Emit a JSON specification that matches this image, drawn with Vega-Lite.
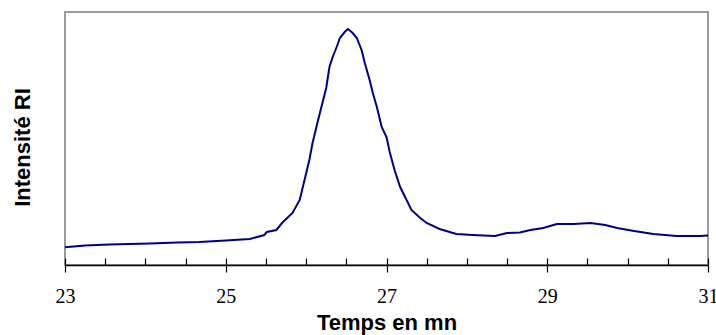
{
  "$schema": "https://vega.github.io/schema/vega-lite/v6.json",
  "width": 643,
  "height": 253,
  "autosize": "none",
  "padding": {"left": 65, "top": 12, "right": 8, "bottom": 70},
  "config": {
    "view": {"stroke": "#9a9a9a", "strokeWidth": 2},
    "axis": {"grid": false, "labelFont": "Liberation Serif", "labelFontSize": 20, "labelColor": "#000"}
  },
  "data": {
    "values": [
      {"t": 23.00, "i": 17.7},
      {"t": 23.25, "i": 19.5},
      {"t": 23.55, "i": 20.5},
      {"t": 23.80, "i": 21},
      {"t": 24.05, "i": 21.5},
      {"t": 24.40, "i": 22.5},
      {"t": 24.67, "i": 23},
      {"t": 25.00, "i": 24.5},
      {"t": 25.30, "i": 26},
      {"t": 25.48, "i": 30},
      {"t": 25.51, "i": 33},
      {"t": 25.63, "i": 35},
      {"t": 25.70, "i": 42},
      {"t": 25.83, "i": 52},
      {"t": 25.92, "i": 65},
      {"t": 25.98, "i": 85},
      {"t": 26.04, "i": 105},
      {"t": 26.08, "i": 122},
      {"t": 26.14, "i": 142},
      {"t": 26.19, "i": 158},
      {"t": 26.25, "i": 177},
      {"t": 26.29, "i": 198},
      {"t": 26.33, "i": 208},
      {"t": 26.38, "i": 218},
      {"t": 26.42, "i": 227},
      {"t": 26.48, "i": 233},
      {"t": 26.52, "i": 236},
      {"t": 26.58, "i": 232},
      {"t": 26.63, "i": 227},
      {"t": 26.69, "i": 215},
      {"t": 26.73, "i": 202},
      {"t": 26.79, "i": 185},
      {"t": 26.83, "i": 172},
      {"t": 26.88, "i": 158},
      {"t": 26.94, "i": 138},
      {"t": 27.00, "i": 128},
      {"t": 27.04, "i": 113},
      {"t": 27.10, "i": 95},
      {"t": 27.17, "i": 78},
      {"t": 27.25, "i": 65},
      {"t": 27.31, "i": 55},
      {"t": 27.42, "i": 47},
      {"t": 27.50, "i": 42},
      {"t": 27.66, "i": 36},
      {"t": 27.87, "i": 31},
      {"t": 28.07, "i": 30},
      {"t": 28.35, "i": 29},
      {"t": 28.50, "i": 32},
      {"t": 28.66, "i": 32.5},
      {"t": 28.79, "i": 35},
      {"t": 28.95, "i": 37},
      {"t": 29.12, "i": 41},
      {"t": 29.33, "i": 41},
      {"t": 29.54, "i": 42},
      {"t": 29.72, "i": 40},
      {"t": 29.87, "i": 37},
      {"t": 30.08, "i": 34},
      {"t": 30.32, "i": 31},
      {"t": 30.61, "i": 29},
      {"t": 30.90, "i": 29},
      {"t": 31.00, "i": 29.5}
    ]
  },
  "layer": [
    {
      "mark": {"type": "line", "color": "#000080", "strokeWidth": 2},
      "encoding": {
        "x": {
          "field": "t", "type": "quantitative",
          "scale": {"domain": [23, 31], "nice": false, "zero": false},
          "axis": {
            "orient": "bottom",
            "values": [23, 25, 27, 29, 31],
            "format": "d",
            "tickSize": 7, "tickColor": "#000", "tickWidth": 1.2,
            "domainColor": "#000", "domainWidth": 1.5,
            "labelFont": "Liberation Serif", "labelFontSize": 20, "labelColor": "#000",
            "labelPadding": 14, "labelFlush": false,
            "title": "Temps en mn",
            "titleFont": "Liberation Sans", "titleFontSize": 22, "titleFontWeight": "bold",
            "titleColor": "#000", "titlePadding": 6
          }
        },
        "y": {
          "field": "i", "type": "quantitative",
          "scale": {"domain": [0, 253], "nice": false},
          "axis": {
            "labels": false, "ticks": false, "domain": false,
            "title": "Intensité RI",
            "titleFont": "Liberation Sans", "titleFontSize": 22, "titleFontWeight": "bold",
            "titleColor": "#000", "titlePadding": 31, "titleY": 135
          }
        }
      }
    },
    {
      "mark": {"type": "line", "opacity": 0},
      "encoding": {
        "x": {
          "field": "t", "type": "quantitative",
          "scale": {"domain": [23, 31], "nice": false, "zero": false},
          "axis": {
            "orient": "bottom",
            "values": [23, 23.5, 24, 24.5, 25, 25.5, 26, 26.5, 27, 27.5, 28, 28.5, 29, 29.5, 30, 30.5, 31],
            "labels": false, "domain": false, "title": null,
            "tickSize": -7, "tickColor": "#000", "tickWidth": 1.2
          }
        },
        "y": {"field": "i", "type": "quantitative", "scale": {"domain": [0, 253], "nice": false}}
      }
    }
  ],
  "resolve": {"axis": {"x": "independent"}}
}
